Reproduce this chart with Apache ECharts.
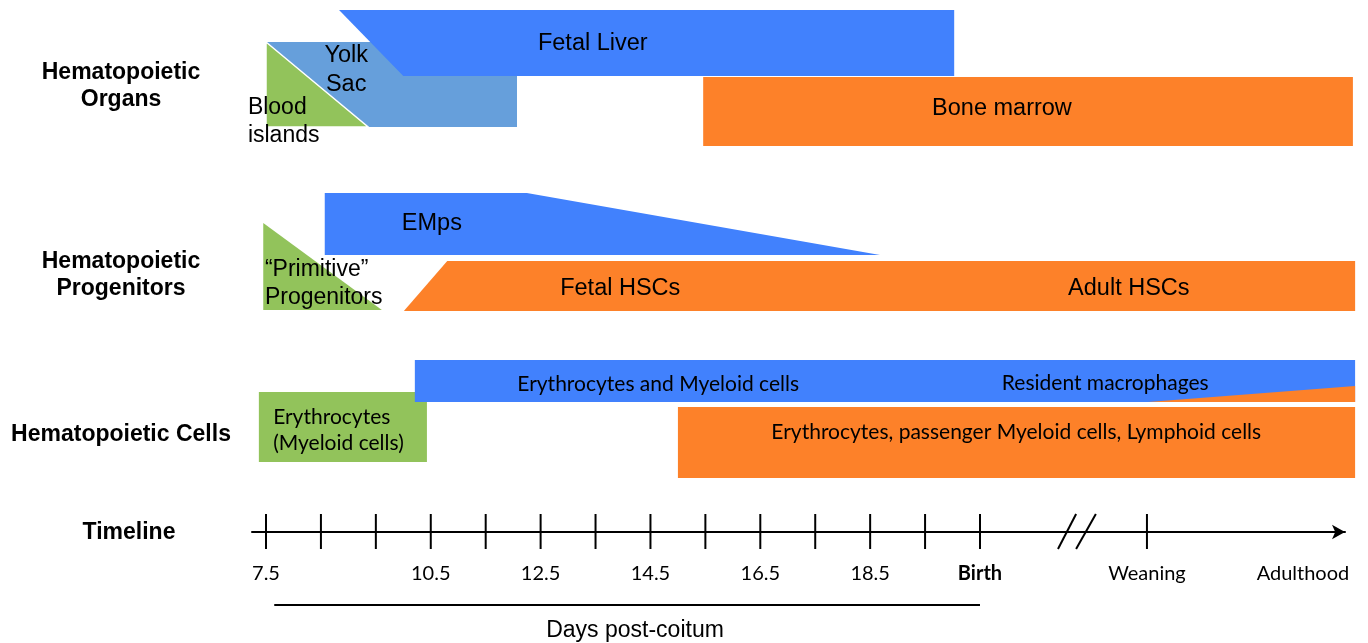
<!DOCTYPE html>
<html>
<head>
<meta charset="utf-8">
<script src="https://cdn.jsdelivr.net/npm/echarts@6/dist/echarts.min.js"></script>
<style>
  html, body { margin: 0; padding: 0; background: #fff; }
  #chart { width: 1368px; height: 643px; }
</style>
</head>
<body>
<div id="chart"></div>
<script>
  // x = days post-coitum (Birth = 20.5), y = vertical level from the top
  var yolkSac = [[7.5, 42], [12.07, 42], [12.07, 127], [9.36, 127]];
  var bloodIslands = [[7.5, 42], [7.5, 127], [9.36, 127]];
  var fetalLiver = [[8.83, 10], [20.03, 10], [20.03, 76], [10.0, 76]];
  var boneMarrow = [[15.46, 77], [27.29, 77], [27.29, 146], [15.46, 146]];
  var emps = [[8.57, 193], [12.25, 193], [18.68, 255], [8.57, 255]];
  var primitiveProg = [[7.45, 223], [7.45, 310], [9.61, 310]];
  var hscs = [[10.8, 261], [27.33, 261], [27.33, 311], [10.01, 311]];
  var earlyCells = [[7.37, 392], [10.43, 392], [10.43, 462], [7.37, 462]];
  var myeloidCells = [[10.21, 360], [27.33, 360], [27.33, 402], [10.21, 402]];
  var macrophageWedge = [[23.56, 402], [27.33, 386], [27.33, 402]];
  var lateCells = [[15.0, 407], [27.33, 407], [27.33, 478], [15.0, 478]];

  // timeline
  var tickDays = [7.5, 8.5, 9.5, 10.5, 11.5, 12.5, 13.5, 14.5, 15.5, 16.5, 17.5, 18.5, 19.5, 20.5, 23.54];
  var labelDays = [7.5, 10.5, 12.5, 14.5, 16.5, 18.5, 20.5, 23.54, 26.38];
  var labelNames = ['7.5', '10.5', '12.5', '14.5', '16.5', '18.5', 'Birth', 'Weaning', 'Adulthood'];
  var breakMarks = [[21.92, 22.25], [22.25, 22.61]];
  var daysSpan = [7.65, 20.5];

  // text inside the bands: [day, level, text]
  var organTexts = [
    [13.45, 44, 'Fetal Liver'],
    [8.96, 70, 'Yolk\nSac'],
    [20.9, 109, 'Bone marrow'],
    [10.52, 224, 'EMps'],
    [13.95, 289, 'Fetal HSCs'],
    [23.21, 289, 'Adult HSCs']
  ];
  var leftTexts = [
    [7.17, 122, 'Blood\nislands'],
    [7.48, 284, '\u201cPrimitive\u201d\nProgenitors']
  ];
  var cellTexts = [
    [14.64, 384, 'Erythrocytes and Myeloid cells'],
    [22.78, 383, 'Resident macrophages'],
    [21.16, 432, 'Erythrocytes, passenger Myeloid cells, Lymphoid cells']
  ];
  var cellLeftTexts = [
    [7.63, 430, 'Erythrocytes\n(Myeloid cells)']
  ];

  var BLUE = '#4181fd';
  var LIGHT_BLUE = '#669fdb';
  var GREEN = '#92c35b';
  var ORANGE = '#fd8129';

  var shapes = [
    { pts: yolkSac, color: LIGHT_BLUE },
    { pts: bloodIslands, color: GREEN, stroke: '#fff' },
    { pts: fetalLiver, color: BLUE },
    { pts: boneMarrow, color: ORANGE },
    { pts: emps, color: BLUE },
    { pts: primitiveProg, color: GREEN },
    { pts: hscs, color: ORANGE },
    { pts: earlyCells, color: GREEN },
    { pts: myeloidCells, color: BLUE },
    { pts: macrophageWedge, color: ORANGE },
    { pts: lateCells, color: ORANGE }
  ];

  var ARIAL = '"Liberation Sans", Arial, sans-serif';
  var CALIBRI = 'Lato, "Open Sans", sans-serif';

  function textSeries(list, font, size, align) {
    return {
      type: 'custom',
      coordinateSystem: 'cartesian2d',
      silent: true,
      data: list.map(function (t) { return [t[0], t[1]]; }),
      renderItem: function (params, api) {
        var t = list[params.dataIndex];
        var p = api.coord([t[0], t[1]]);
        return {
          type: 'text',
          x: p[0],
          y: p[1],
          style: {
            text: t[2],
            fill: '#000',
            fontFamily: font,
            fontSize: size,
            lineHeight: Math.round(size * 1.22),
            align: align,
            verticalAlign: 'middle'
          }
        };
      }
    };
  }

  function segment(api, a, b) {
    var p1 = api.coord(a);
    var p2 = api.coord(b);
    return {
      type: 'line',
      shape: { x1: p1[0], y1: p1[1], x2: p2[0], y2: p2[1] },
      style: { stroke: '#000', lineWidth: 2 }
    };
  }

  var chart = echarts.init(document.getElementById('chart'));

  var option = {
    animation: false,
    backgroundColor: '#fff',
    grid: { left: 252, right: 23, top: 0, bottom: 111 },
    xAxis: {
      type: 'value',
      min: 7.245,
      max: 27.146,
      position: 'bottom',
      splitLine: { show: false },
      axisLine: {
        show: true,
        onZero: false,
        symbol: ['none', 'arrow'],
        symbolSize: [11, 13],
        lineStyle: { color: '#000', width: 2 }
      },
      axisTick: { show: false },
      axisLabel: {
        show: true,
        customValues: labelDays,
        margin: 32,
        fontFamily: CALIBRI,
        fontSize: 20,
        color: '#000',
        formatter: function (v) {
          for (var i = 0; i < labelDays.length; i++) {
            if (Math.abs(labelDays[i] - v) < 1e-6) {
              return labelNames[i] === 'Birth' ? '{b|Birth}' : labelNames[i];
            }
          }
          return '';
        },
        rich: { b: { fontFamily: CALIBRI, fontSize: 20, fontWeight: 'bold', color: '#000' } }
      }
    },
    yAxis: {
      type: 'value',
      inverse: true,
      min: 0,
      max: 532,
      show: false
    },
    graphic: [
      { type: 'text', x: 121, y: 86, style: { text: 'Hematopoietic\nOrgans', fontFamily: ARIAL, fontWeight: 'bold', fontSize: 23, lineHeight: 27, align: 'center', verticalAlign: 'middle', fill: '#000' } },
      { type: 'text', x: 121, y: 275, style: { text: 'Hematopoietic\nProgenitors', fontFamily: ARIAL, fontWeight: 'bold', fontSize: 23, lineHeight: 27, align: 'center', verticalAlign: 'middle', fill: '#000' } },
      { type: 'text', x: 121, y: 435, style: { text: 'Hematopoietic Cells', fontFamily: ARIAL, fontWeight: 'bold', fontSize: 23, align: 'center', verticalAlign: 'middle', fill: '#000' } },
      { type: 'text', x: 129, y: 533, style: { text: 'Timeline', fontFamily: ARIAL, fontWeight: 'bold', fontSize: 23, align: 'center', verticalAlign: 'middle', fill: '#000' } },
      { type: 'text', x: 635, y: 631, style: { text: 'Days post-coitum', fontFamily: ARIAL, fontSize: 23, align: 'center', verticalAlign: 'middle', fill: '#000' } }
    ],
    series: [
      {
        type: 'custom',
        coordinateSystem: 'cartesian2d',
        silent: true,
        clip: false,
        data: shapes.map(function (s) { return s.pts[0]; }),
        renderItem: function (params, api) {
          var s = shapes[params.dataIndex];
          return {
            type: 'polygon',
            shape: { points: s.pts.map(function (p) { return api.coord(p); }) },
            style: { fill: s.color, stroke: s.stroke || null, lineWidth: s.stroke ? 1.5 : 0 }
          };
        }
      },
      {
        // ticks crossing the timeline
        type: 'custom',
        coordinateSystem: 'cartesian2d',
        silent: true,
        clip: false,
        data: tickDays.map(function (d) { return [d, 532]; }),
        renderItem: function (params, api) {
          var d = tickDays[params.dataIndex];
          return segment(api, [d, 514], [d, 549]);
        }
      },
      {
        // break marks and the "days post-coitum" bracket line
        type: 'custom',
        coordinateSystem: 'cartesian2d',
        silent: true,
        clip: false,
        data: breakMarks.map(function (b) { return [b[0], 548]; }),
        renderItem: function (params, api) {
          var b = breakMarks[params.dataIndex];
          var children = [segment(api, [b[0], 549], [b[1], 514])];
          if (params.dataIndex === 0) {
            children.push(segment(api, [daysSpan[0], 605], [daysSpan[1], 605]));
          }
          return { type: 'group', children: children };
        }
      },
      textSeries(organTexts, ARIAL, 23.5, 'center'),
      textSeries(leftTexts, ARIAL, 23, 'left'),
      textSeries(cellTexts, CALIBRI, 21, 'center'),
      textSeries(cellLeftTexts, CALIBRI, 21, 'left')
    ]
  };

  chart.setOption(option);
</script>
</body>
</html>
